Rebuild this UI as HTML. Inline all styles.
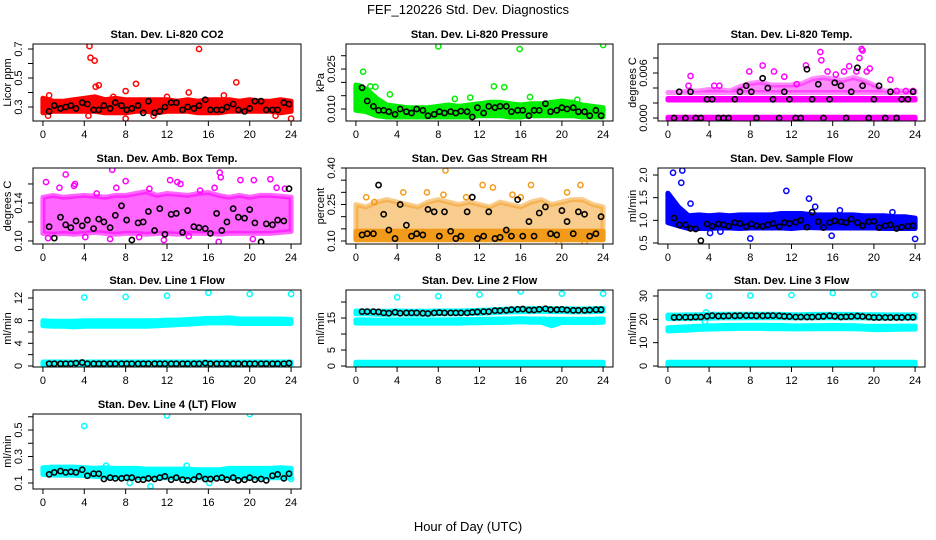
<!DOCTYPE html>
<html><head><meta charset="utf-8"><style>
html,body{margin:0;padding:0;background:#fff;}
svg{display:block;font-family:"Liberation Sans",sans-serif;}
</style></head><body>
<svg id="chart" width="936" height="540" viewBox="0 0 936 540">
<text x="468" y="14" text-anchor="middle" font-size="13">FEF_120226  Std. Dev. Diagnostics</text>
<text x="468" y="531" text-anchor="middle" font-size="13">Hour of Day (UTC)</text>
</svg>
<script>
const hours = [0,1,2,3,4,5,6,7,8,9,10,11,12,13,14,15,16,17,18,19,20,21,22,23,24];
const blackHours = [0.6,1.1,1.7,2.2,2.7,3.2,3.8,4.3,4.9,5.4,5.9,6.5,7.0,7.6,8.1,8.6,9.2,9.7,10.2,10.8,11.3,11.8,12.4,12.9,13.5,14.0,14.6,15.1,15.7,16.2,16.8,17.3,17.8,18.4,18.9,19.5,20.0,20.5,21.1,21.6,22.2,22.7,23.3,23.8];
const xTicks = [0,4,8,12,16,20,24];

// CO2
const co2Lo = [0.26,0.27,0.27,0.27,0.27,0.27,0.26,0.26,0.26,0.27,0.27,0.26,0.27,0.27,0.27,0.26,0.26,0.26,0.27,0.27,0.27,0.27,0.27,0.26,0.27];
const co2Hi = [0.36,0.34,0.34,0.35,0.36,0.37,0.35,0.36,0.35,0.35,0.35,0.35,0.35,0.34,0.35,0.34,0.35,0.35,0.35,0.34,0.35,0.34,0.34,0.35,0.34];
const co2OutX = [4.5,4.6,5.0,5.1,5.4,9.0,8.0,15.1,18.7,14.1,0.6,4.4,8.0,17.5,24.0,0.5,10.7,22.5,6.8,12.0];
const co2OutY = [0.72,0.64,0.62,0.44,0.45,0.46,0.41,0.70,0.47,0.40,0.38,0.24,0.22,0.38,0.22,0.24,0.24,0.24,0.37,0.37];
const co2Black = [0.27,0.31,0.29,0.30,0.31,0.29,0.33,0.32,0.28,0.28,0.31,0.29,0.33,0.31,0.28,0.29,0.31,0.26,0.34,0.26,0.27,0.30,0.33,0.33,0.28,0.30,0.29,0.31,0.35,0.28,0.28,0.28,0.30,0.32,0.28,0.27,0.29,0.34,0.34,0.28,0.28,0.28,0.33,0.32];
// Pressure
const prLo = [0.0095,0.009,0.0075,0.007,0.007,0.007,0.007,0.007,0.007,0.007,0.007,0.007,0.0075,0.0075,0.0075,0.007,0.007,0.0075,0.0075,0.0075,0.0075,0.0075,0.007,0.007,0.007];
const prHi = [0.019,0.0175,0.014,0.0115,0.011,0.0105,0.0105,0.0105,0.011,0.0115,0.011,0.0115,0.012,0.0125,0.0125,0.012,0.0115,0.012,0.012,0.0125,0.013,0.0125,0.0115,0.011,0.0105];
const prOutX = [0.7,8.0,15.9,24.0,3.3,13.4,14.4,0.3,1.4,1.9,9.6,11.1,16.9,21.5];
const prOutY = [0.024,0.0335,0.0325,0.034,0.0155,0.0185,0.0182,0.0185,0.0185,0.0183,0.0138,0.0143,0.0145,0.0135];
const prBlack = [0.018,0.013,0.011,0.0095,0.0095,0.009,0.008,0.010,0.009,0.0085,0.010,0.0095,0.0075,0.008,0.009,0.0085,0.009,0.0085,0.0092,0.009,0.007,0.0105,0.0085,0.011,0.0105,0.011,0.011,0.009,0.0095,0.0095,0.0075,0.0095,0.0095,0.012,0.009,0.0095,0.0105,0.010,0.0105,0.009,0.009,0.0075,0.0095,0.0075];
// Li-820 temp
const tLevel0Lo = [-0.0001,-0.0001,-0.0001,-0.0001,-0.0001,-0.0001,-0.0001,-0.0001,-0.0001,-0.0001,-0.0001,-0.0001,-0.0001,-0.0001,-0.0001,-0.0001,-0.0001,-0.0001,-0.0001,-0.0001,-0.0001,-0.0001,-0.0001,-0.0001,-0.0001];
const tLevel0Hi = [0.0001,0.0001,0.0001,0.0001,0.0001,0.0001,0.0001,0.0001,0.0001,0.0001,0.0001,0.0001,0.0001,0.0001,0.0001,0.0001,0.0001,0.0001,0.0001,0.0001,0.0001,0.0001,0.0001,0.0001,0.0001];
const tLevel1Lo = [0.0024,0.0024,0.0024,0.0024,0.0024,0.0024,0.0024,0.0024,0.0024,0.0024,0.0024,0.0024,0.0024,0.0024,0.0024,0.0024,0.0024,0.0024,0.0024,0.0024,0.0024,0.0024,0.0024,0.0024,0.0024];
const tLevel1Hi = [0.0026,0.0026,0.0026,0.0026,0.0026,0.0026,0.0026,0.0026,0.0026,0.0026,0.0026,0.0026,0.0026,0.0026,0.0026,0.0026,0.0026,0.0026,0.0026,0.0026,0.0026,0.0026,0.0026,0.0026,0.0026];
const tUpLo = [0.0034,0.0034,0.0034,0.0034,0.0034,0.0034,0.0034,0.0034,0.0034,0.0034,0.0034,0.0034,0.0034,0.0034,0.0034,0.0034,0.0034,0.0034,0.0034,0.0034,0.0034,0.0034,0.0034,0.0034,0.0034];
const tUpHi = [0.0034,0.0034,0.0036,0.0036,0.0038,0.0038,0.0036,0.0042,0.0046,0.0048,0.0044,0.0044,0.0044,0.0046,0.0052,0.0054,0.0052,0.0050,0.0054,0.0050,0.0044,0.0036,0.0036,0.0036,0.0036];
const tOutX = [2.2,2.0,4.5,5.0,7.9,9.2,10.3,11.3,12.5,14.8,14.9,15.5,16.3,17.1,17.6,18.3,18.6,18.8,18.9,19.3,19.6,21.6,22.2,23.1,23.8,13.4];
const tOutY = [0.0056,0.0043,0.0043,0.0043,0.0062,0.0070,0.0062,0.0055,0.0045,0.0088,0.0077,0.0062,0.0058,0.0062,0.0069,0.0062,0.0080,0.0092,0.0090,0.0062,0.0066,0.0051,0.0036,0.0036,0.0036,0.0070];
const tBlack = [0,0.0035,0,0.0035,0,0,0.0025,0.0025,0,0,0,0.0025,0.0035,0.0043,0.0035,0,0.0053,0.004,0.0025,0,0.0035,0.0025,0,0,0.0065,0.0025,0.0045,0,0.0025,0.0047,0.0043,0,0.0035,0.0067,0.0043,0,0.0025,0.0043,0,0.0035,0,0.0025,0.0025,0.0035];
// Amb box temp
const ambLo = [0.108,0.107,0.108,0.107,0.108,0.109,0.108,0.107,0.108,0.108,0.107,0.108,0.108,0.107,0.108,0.108,0.108,0.107,0.108,0.108,0.108,0.108,0.108,0.109,0.110];
const ambHi = [0.146,0.148,0.146,0.147,0.148,0.147,0.146,0.148,0.148,0.150,0.152,0.148,0.150,0.149,0.148,0.150,0.151,0.148,0.146,0.148,0.146,0.148,0.148,0.147,0.146];
const ambOutX = [0.3,1.6,2.2,3.0,3.1,5.2,6.7,7.1,8.0,10.3,12.3,13.0,13.3,15.2,16.6,17.1,17.2,19.1,20.4,22.0,22.6,23.4,0.5,4.1,6.5,11.7,17.0,20.3,9.3,14.1];
const ambOutY = [0.162,0.156,0.170,0.158,0.160,0.150,0.175,0.156,0.163,0.155,0.164,0.162,0.160,0.153,0.156,0.172,0.167,0.164,0.164,0.165,0.156,0.155,0.103,0.104,0.102,0.101,0.099,0.102,0.104,0.105];
const ambBlack = [0.115,0.103,0.125,0.117,0.114,0.121,0.116,0.122,0.113,0.123,0.120,0.114,0.127,0.137,0.122,0.101,0.119,0.120,0.131,0.111,0.134,0.107,0.128,0.129,0.109,0.132,0.115,0.114,0.113,0.108,0.129,0.111,0.120,0.134,0.125,0.124,0.133,0.119,0.099,0.118,0.117,0.122,0.121,0.155];
// RH
const rhLo = [0.105,0.105,0.105,0.105,0.105,0.105,0.105,0.105,0.105,0.105,0.105,0.105,0.105,0.105,0.105,0.105,0.105,0.105,0.105,0.105,0.105,0.105,0.105,0.105,0.105];
const rhHi = [0.14,0.14,0.14,0.14,0.14,0.14,0.14,0.14,0.14,0.14,0.14,0.14,0.14,0.14,0.14,0.14,0.14,0.14,0.14,0.14,0.14,0.14,0.14,0.14,0.14];
const rhUpLo = [0.14,0.14,0.14,0.14,0.14,0.14,0.14,0.14,0.14,0.14,0.14,0.14,0.14,0.14,0.14,0.14,0.14,0.14,0.14,0.14,0.14,0.14,0.14,0.14,0.14];
const rhUpHi = [0.25,0.24,0.26,0.27,0.26,0.25,0.24,0.26,0.27,0.26,0.25,0.26,0.25,0.24,0.26,0.25,0.24,0.26,0.27,0.25,0.26,0.27,0.27,0.25,0.24];
const rhOutX = [8.7,12.3,13.3,17.0,21.8,4.6,6.9,8.5,10.7,16.0,20.5,1.0,1.8,15.2,19.7,22.2];
const rhOutY = [0.39,0.33,0.32,0.33,0.33,0.30,0.30,0.29,0.28,0.28,0.30,0.28,0.26,0.29,0.09,0.09];
const rhBlack = [0.125,0.13,0.13,0.33,0.21,0.145,0.11,0.25,0.165,0.12,0.13,0.125,0.23,0.22,0.12,0.22,0.14,0.11,0.12,0.22,0.28,0.11,0.12,0.22,0.11,0.115,0.145,0.12,0.27,0.12,0.18,0.12,0.215,0.24,0.13,0.125,0.225,0.18,0.13,0.22,0.21,0.12,0.13,0.2];
// Sample flow
const sfLo = [0.95,0.88,0.82,0.82,0.82,0.83,0.83,0.82,0.83,0.83,0.83,0.83,0.82,0.84,0.84,0.83,0.83,0.83,0.83,0.83,0.83,0.82,0.82,0.82,0.82];
const sfHi = [1.6,1.3,1.1,1.12,1.1,1.12,1.1,1.12,1.12,1.12,1.12,1.15,1.15,1.15,1.12,1.12,1.12,1.12,1.12,1.1,1.1,1.1,1.08,1.08,1.05];
const sfOutX = [0.5,1.4,1.3,11.5,13.7,2.2,8.0,15.9,24.0,4.1,5.1,14.3,16.7,21.8];
const sfOutY = [2.05,2.1,1.83,1.65,1.48,1.37,0.6,0.66,0.59,0.72,0.75,1.3,1.22,1.18];
const sfBlack = [1.05,0.9,0.9,0.82,0.81,0.55,0.92,0.87,0.92,0.9,0.87,0.95,0.93,0.86,0.92,0.88,0.87,0.9,0.93,0.86,0.95,0.93,0.96,1.0,0.85,1.18,0.97,0.84,0.95,0.99,0.97,0.95,1.03,0.95,0.88,0.97,0.98,0.84,0.88,0.9,0.82,0.85,0.87,0.88];
// Line 1
const l1Lo = [7.1,7.0,7.0,6.9,7.0,7.0,7.0,7.0,7.0,7.0,7.0,7.1,7.2,7.3,7.4,7.5,7.6,7.6,7.6,7.5,7.5,7.5,7.5,7.5,7.5];
const l1Hi = [8.0,7.9,7.9,7.9,8.0,8.0,8.0,8.0,8.0,8.0,8.0,8.0,8.1,8.1,8.2,8.3,8.4,8.4,8.5,8.3,8.3,8.3,8.3,8.3,8.2];
const l1BotLo = [0.2,0.2,0.2,0.2,0.2,0.2,0.2,0.2,0.2,0.2,0.2,0.2,0.2,0.2,0.2,0.2,0.2,0.2,0.2,0.2,0.2,0.2,0.2,0.2,0.2];
const l1BotHi = [0.7,0.7,0.7,0.7,0.7,0.7,0.7,0.7,0.7,0.7,0.7,0.7,0.7,0.7,0.7,0.7,0.7,0.7,0.7,0.7,0.7,0.7,0.7,0.7,0.7];
const l1OutX = [4,8,12,16,20,24];
const l1OutY = [12.1,12.2,12.4,12.9,12.7,12.7];
const l1Black = [0.4,0.4,0.4,0.4,0.4,0.5,0.6,0.4,0.4,0.4,0.4,0.4,0.4,0.4,0.4,0.4,0.4,0.4,0.4,0.4,0.4,0.4,0.4,0.4,0.4,0.4,0.4,0.4,0.5,0.4,0.4,0.4,0.4,0.4,0.4,0.4,0.4,0.4,0.4,0.4,0.4,0.4,0.4,0.5];
// Line 2
const l2TopLo = [16.3,16.3,16.2,16.2,16.3,16.2,16.2,16.2,16.3,16.3,16.3,16.4,16.5,16.6,16.8,16.9,17.0,17.0,17.1,17.0,17.0,16.9,16.9,17.0,17.1];
const l2TopHi = [17.2,17.2,17.1,17.1,17.2,17.1,17.1,17.1,17.2,17.2,17.2,17.3,17.4,17.5,17.7,17.8,17.9,17.9,18.0,17.9,17.9,17.8,17.8,17.9,18.0];
const l2MidLo = [13.4,13.4,13.4,13.4,13.4,13.4,13.4,13.4,13.4,13.4,13.4,13.5,13.5,13.6,13.6,13.7,13.8,13.7,13.7,12.6,13.6,13.6,13.6,13.6,13.7];
const l2MidHi = [14.4,14.4,14.3,14.4,14.4,14.4,14.4,14.4,14.4,14.4,14.5,14.5,14.6,14.6,14.7,14.7,14.8,14.7,14.7,14.6,14.6,14.6,14.6,14.6,14.7];
const l2BotLo = [0,0,0,0,0,0,0,0,0,0,0,0,0,0,0,0,0,0,0,0,0,0,0,0,0];
const l2BotHi = [1.2,1.2,1.2,1.2,1.2,1.2,1.2,1.2,1.2,1.2,1.2,1.2,1.2,1.2,1.2,1.2,1.2,1.2,1.2,1.2,1.2,1.2,1.2,1.2,1.2];
const l2OutX = [4,8,12,16,20,24];
const l2OutY = [21.5,21.8,22.3,23.3,22.6,22.6];
const l2Black = [17.0,17.0,17.0,16.9,16.6,16.5,16.8,16.5,16.6,16.6,16.6,16.5,16.4,16.6,16.7,16.6,16.6,16.6,16.6,16.6,16.8,16.9,17.0,17.0,17.3,17.3,17.4,17.6,17.7,17.8,17.5,17.5,17.7,17.9,17.6,17.6,17.7,17.5,17.4,17.4,17.4,17.5,17.6,17.6];
// Line 3
const l3TopLo = [20.3,20.3,20.3,20.4,20.5,20.6,20.6,20.6,20.7,20.7,20.7,20.7,20.6,20.6,20.6,20.7,20.7,20.6,20.6,20.6,20.5,20.5,20.5,20.5,20.5];
const l3TopHi = [21.8,21.8,21.9,22.0,22.1,22.2,22.2,22.2,22.2,22.2,22.2,22.1,22.0,22.0,22.1,22.1,22.2,22.1,22.1,22.0,22.0,21.9,21.9,21.9,21.9];
const l3MidLo = [15.0,15.2,15.4,15.7,15.8,16.0,16.0,16.1,16.1,16.1,16.0,16.0,15.9,15.9,16.0,16.0,16.0,16.0,16.0,15.8,15.6,15.6,15.7,15.8,15.8];
const l3MidHi = [16.4,16.6,16.8,17.0,17.2,17.3,17.4,17.4,17.5,17.5,17.4,17.4,17.2,17.2,17.3,17.3,17.4,17.3,17.3,17.1,17.0,17.0,17.0,17.1,17.1];
const l3BotLo = [0,0,0,0,0,0,0,0,0,0,0,0,0,0,0,0,0,0,0,0,0,0,0,0,0];
const l3BotHi = [1.6,1.6,1.6,1.6,1.6,1.6,1.6,1.6,1.6,1.6,1.6,1.6,1.6,1.6,1.6,1.6,1.6,1.6,1.6,1.6,1.6,1.6,1.6,1.6,1.6];
const l3OutX = [4,8,12,16,20,24,3.7,3.6];
const l3OutY = [30.0,30.2,30.4,31.3,30.6,30.4,23.0,19.0];
const l3Black = [20.8,20.9,20.9,20.9,21.0,21.0,21.3,21.6,21.4,21.4,21.5,21.5,21.6,21.6,21.6,21.5,21.5,21.6,21.6,21.5,21.3,21.2,21.0,21.0,21.0,21.0,21.1,21.3,21.5,21.3,21.0,21.1,21.2,21.4,21.2,21.0,20.8,20.8,20.8,20.8,20.8,20.8,20.9,20.9];
// Line 4
const l4Lo = [0.165,0.16,0.16,0.16,0.155,0.15,0.145,0.145,0.14,0.14,0.14,0.14,0.14,0.14,0.14,0.14,0.14,0.14,0.14,0.14,0.14,0.14,0.14,0.14,0.14];
const l4Hi = [0.215,0.22,0.22,0.22,0.215,0.21,0.215,0.21,0.21,0.21,0.205,0.205,0.205,0.205,0.205,0.2,0.2,0.2,0.21,0.21,0.21,0.21,0.21,0.215,0.21];
const l4OutX = [4.0,12.0,20.0,10.4,8.4,16.1,6.1,13.9,24.0];
const l4OutY = [0.53,0.61,0.62,0.075,0.10,0.10,0.23,0.23,0.13];
const l4Black = [0.165,0.18,0.19,0.18,0.185,0.18,0.2,0.155,0.17,0.17,0.13,0.14,0.135,0.135,0.14,0.14,0.125,0.125,0.135,0.13,0.14,0.15,0.125,0.14,0.125,0.12,0.125,0.15,0.13,0.13,0.135,0.14,0.125,0.14,0.12,0.125,0.14,0.125,0.13,0.12,0.155,0.165,0.135,0.17];

const NS = 'http://www.w3.org/2000/svg';
const svg = document.getElementById('chart');
function mk(tag, attrs, parent){
  const e = document.createElementNS(NS, tag);
  for (const k in attrs) e.setAttribute(k, attrs[k]);
  (parent||svg).appendChild(e);
  return e;
}
const cols = [[33,301],[346,613],[658,925]];
const rows = [[44,121],[168,244],[290,367],[414,489]];

function panel(o){
  const [x0,x1] = cols[o.c]; const [y0,y1] = rows[o.r];
  const g = mk('g', {});
  
  
  const xs = v => x0 + (v + 0.96) / 25.92 * (x1 - x0);
  const ys = v => y1 - (v - o.ymin) / (o.ymax - o.ymin) * (y1 - y0);
  const cp = 'clip-' + o.name;
  const cd = mk('clipPath', {id: cp}, g);
  mk('rect', {x: x0, y: y0, width: x1 - x0, height: y1 - y0}, cd);
  const pg = mk('g', {'clip-path': 'url(#' + cp + ')'}, g);
  // bands
  (o.bands || []).forEach(b => {
    let d = '';
    hours.forEach((h, i) => { d += (i ? 'L' : 'M') + xs(h).toFixed(1) + ' ' + ys(b.hi[i]).toFixed(1); });
    for (let i = hours.length - 1; i >= 0; i--) d += 'L' + xs(hours[i]).toFixed(1) + ' ' + ys(b.lo[i]).toFixed(1);
    d += 'Z';
    const p = mk('path', {d: d, fill: b.col || o.col, 'fill-opacity': b.op || 1, stroke: b.col || o.col, 'stroke-opacity': b.op || 1, 'stroke-width': 5, 'stroke-linejoin': 'round'}, pg);
    
    
  });
  // outliers
  o.ox.forEach((xv, i) => {
    const c = mk('circle', {cx: xs(xv), cy: ys(o.oy[i]), r: 2.6, fill: 'none', stroke: o.col, 'stroke-width': 1.5}, pg);
    
    
  });
  // black points
  blackHours.forEach((xv, i) => {
    const c = mk('circle', {cx: xs(xv), cy: ys(o.black[i]), r: 2.6, fill: 'none', stroke: '#000', 'stroke-width': 1.6}, pg);
    
    
  });
  // box
  const bx = mk('rect', {x: x0, y: y0, width: x1 - x0, height: y1 - y0, fill: 'none', stroke: '#000', 'stroke-width': 1}, g);
  
  
  // x ticks
  xTicks.forEach(t => {
    const X = xs(t);
    mk('line', {x1: X, x2: X, y1: y1, y2: y1 + 5, stroke: '#000'}, g);
    const tx = mk('text', {x: X, y: y1 + 17, 'text-anchor': 'middle', 'font-size': 11}, g);
    tx.textContent = t;
    
    
  });
  // y ticks
  o.yt.forEach((t, i) => {
    const Y = ys(t);
    mk('line', {x1: x0 - 5, x2: x0, y1: Y, y2: Y, stroke: '#000'}, g);
    if (o.ylab[i]) {
      const tx = mk('text', {x: 0, y: 0, 'text-anchor': 'middle', 'font-size': 11, transform: 'translate(' + (x0 - 11) + ',' + Y + ') rotate(-90)'}, g);
      tx.textContent = o.ylab[i];
      
      
    }
  });
  const yt = mk('text', {x: 0, y: 0, 'text-anchor': 'middle', 'font-size': 11, transform: 'translate(' + (x0 - 22) + ',' + ((y0 + y1) / 2) + ') rotate(-90)'}, g);
  yt.textContent = o.yTitle;
  
  
  const tt = mk('text', {x: (x0 + x1) / 2, y: y0 - 6, 'text-anchor': 'middle', 'font-size': 11, 'font-weight': 'bold'}, g);
  tt.textContent = o.title;
  
  
}

panel({name:'co2', c:0, r:0, ymin:0.2034, ymax:0.7345, col:'#ff0000', title:'Stan. Dev. Li-820 CO2', yTitle:'Licor ppm',
  yt:[0.3,0.4,0.5,0.6,0.7], ylab:['0.3','','0.5','','0.7'], bands:[{lo:co2Lo, hi:co2Hi}], ox:co2OutX, oy:co2OutY, black:co2Black});
panel({name:'pressure', c:1, r:0, ymin:0.0055, ymax:0.0344, col:'#00ee00', title:'Stan. Dev. Li-820 Pressure', yTitle:'kPa',
  yt:[0.010,0.015,0.020,0.025,0.030], ylab:['0.010','','','0.025',''], bands:[{lo:prLo, hi:prHi}], ox:prOutX, oy:prOutY, black:prBlack});
panel({name:'licor-temp', c:2, r:0, ymin:-0.0004, ymax:0.00987, col:'#ff00ff', title:'Stan. Dev. Li-820 Temp.', yTitle:'degrees C',
  yt:[0,0.002,0.004,0.006,0.008], ylab:['0.000','','','0.006',''], bands:[{lo:tLevel0Lo, hi:tLevel0Hi},{lo:tLevel1Lo, hi:tLevel1Hi},{lo:tUpLo, hi:tUpHi, op:0.45}], ox:tOutX, oy:tOutY, black:tBlack});
panel({name:'amb-box-temp', c:0, r:1, ymin:0.0968, ymax:0.1768, col:'#ff00ff', title:'Stan. Dev. Amb. Box Temp.', yTitle:'degrees C',
  yt:[0.10,0.12,0.14,0.16], ylab:['0.10','','0.14',''], bands:[{lo:ambLo, hi:ambHi, op:0.6}], ox:ambOutX, oy:ambOutY, black:ambBlack});
panel({name:'gas-rh', c:1, r:1, ymin:0.0877, ymax:0.40, col:'#f29a1a', title:'Stan. Dev. Gas Stream RH', yTitle:'percent',
  yt:[0.10,0.15,0.20,0.25,0.30,0.35,0.40], ylab:['0.10','','','0.25','','','0.40'], bands:[{lo:rhLo, hi:rhHi},{lo:rhUpLo, hi:rhUpHi, op:0.5}], ox:rhOutX, oy:rhOutY, black:rhBlack});
panel({name:'sample-flow', c:2, r:1, ymin:0.478, ymax:2.155, col:'#0000ff', title:'Stan. Dev. Sample Flow', yTitle:'ml/min',
  yt:[0.5,1.0,1.5,2.0], ylab:['0.5','1.0','1.5','2.0'], bands:[{lo:sfLo, hi:sfHi}], ox:sfOutX, oy:sfOutY, black:sfBlack});
panel({name:'line1-flow', c:0, r:2, ymin:-0.18, ymax:13.41, col:'#00ffff', title:'Stan. Dev. Line 1 Flow', yTitle:'ml/min',
  yt:[0,2,4,6,8,10,12], ylab:['0','','4','','8','','12'], bands:[{lo:l1Lo, hi:l1Hi},{lo:l1BotLo, hi:l1BotHi}], ox:l1OutX, oy:l1OutY, black:l1Black});
panel({name:'line2-flow', c:1, r:2, ymin:-0.31, ymax:23.75, col:'#00ffff', title:'Stan. Dev. Line 2 Flow', yTitle:'ml/min',
  yt:[0,5,10,15,20], ylab:['0','5','','15',''], bands:[{lo:l2TopLo, hi:l2TopHi},{lo:l2MidLo, hi:l2MidHi},{lo:l2BotLo, hi:l2BotHi}], ox:l2OutX, oy:l2OutY, black:l2Black});
panel({name:'line3-flow', c:2, r:2, ymin:-0.43, ymax:32.57, col:'#00ffff', title:'Stan. Dev. Line 3 Flow', yTitle:'ml/min',
  yt:[0,10,20,30], ylab:['0','10','20','30'], bands:[{lo:l3TopLo, hi:l3TopHi},{lo:l3MidLo, hi:l3MidHi},{lo:l3BotLo, hi:l3BotHi}], ox:l3OutX, oy:l3OutY, black:l3Black});
panel({name:'line4-flow', c:0, r:3, ymin:0.0547, ymax:0.621, col:'#00ffff', title:'Stan. Dev. Line 4 (LT) Flow', yTitle:'ml/min',
  yt:[0.1,0.2,0.3,0.4,0.5,0.6], ylab:['0.1','','0.3','','0.5',''], bands:[{lo:l4Lo, hi:l4Hi}], ox:l4OutX, oy:l4OutY, black:l4Black});
</script>
</body></html>
